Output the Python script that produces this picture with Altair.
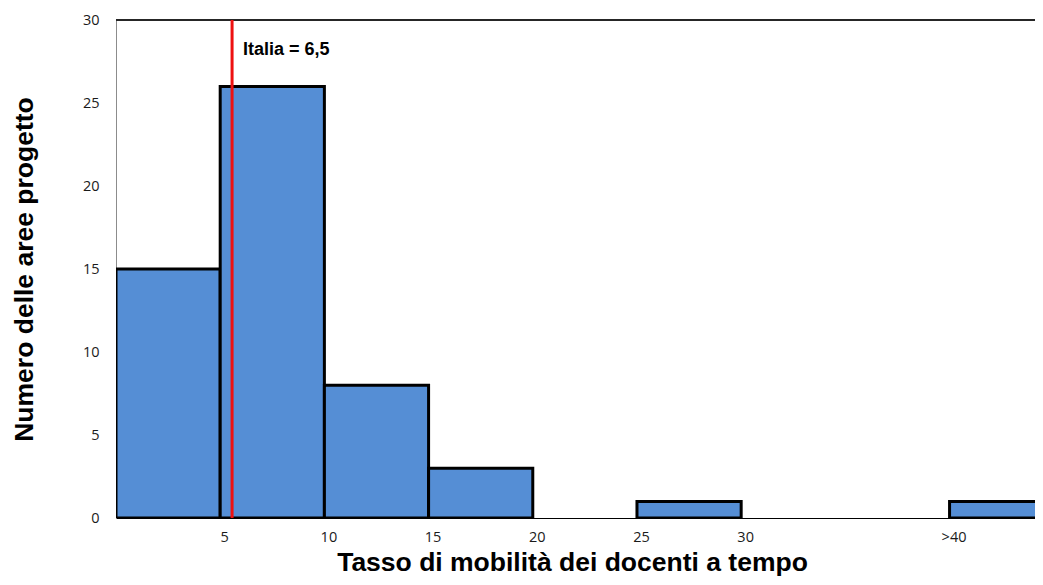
import altair as alt
import pandas as pd

# Histogram data
bin_start = [0, 5, 10, 15, 20, 25, 30, 35, 40]
bin_end = [5, 10, 15, 20, 25, 30, 35, 40, 45]
counts = [15, 26, 8, 3, 0, 1, 0, 0, 1]

# Axis tick values and labels
x_tick_values = [5, 10, 15, 20, 25, 30, 40]
y_tick_values = [0, 5, 10, 15, 20, 25, 30]

# Reference line annotation
italia_x = [5.57]
italia_label_y = [27.9]
italia_label = ["Italia = 6,5"]

bars_df = pd.DataFrame({"start": bin_start, "end": bin_end, "count": counts})
ref_df = pd.DataFrame({"x": italia_x, "y": italia_label_y, "label": italia_label})
top_df = pd.DataFrame({"v": [30]})

x_scale = alt.Scale(domain=[0, 44.1], nice=False, zero=False, padding=0)
y_scale = alt.Scale(domain=[0, 30], nice=False, padding=0)

x_axis = alt.Axis(
    values=x_tick_values,
    labelExpr="datum.value == 40 ? '>40' : datum.label",
    title="Tasso di mobilità dei docenti a tempo",
    titleFont="Liberation Sans", titleFontSize=26.5, titleFontWeight="bold",
    titleColor="#000000",
    titleBaseline="alphabetic", titleAlign="center",
    titleX=456, titleY=52,
    labelFont="Open Sans", labelFontSize=14.5, labelColor="#1a1a1a",
    labelOffset=4, labelPadding=12, ticks=False, grid=False,
    domainColor="#000000", domainWidth=1,
)
y_axis = alt.Axis(
    values=y_tick_values,
    title="Numero delle aree progetto",
    titleFont="Liberation Sans", titleFontSize=26.5, titleFontWeight="bold",
    titleColor="#000000",
    titleBaseline="alphabetic", titleX=-84,
    labelFont="Open Sans", labelFontSize=14.5, labelColor="#1a1a1a",
    labelPadding=17, ticks=False, grid=False,
    domainColor="#8c8c8c", domainWidth=1,
)

bars = alt.Chart(bars_df).transform_filter("datum.count > 0").mark_bar(
    color="#558ED5", stroke="#000000", strokeWidth=3, clip=True
).encode(
    x=alt.X("start:Q", scale=x_scale, axis=x_axis),
    x2="end:Q",
    y=alt.Y("count:Q", scale=y_scale, axis=y_axis),
    y2=alt.datum(0),
)

top_border = alt.Chart(top_df).mark_rule(color="#262626", strokeWidth=2).encode(
    y=alt.Y("v:Q", scale=y_scale)
)

red_line = alt.Chart(ref_df).mark_rule(color="#ee1111", strokeWidth=3).encode(
    x=alt.X("x:Q", scale=x_scale)
)

red_label = alt.Chart(ref_df).mark_text(
    align="left", baseline="alphabetic", dx=11,
    font="Liberation Sans", fontSize=18, fontWeight="bold", color="#000000"
).encode(
    x=alt.X("x:Q", scale=x_scale),
    y=alt.Y("y:Q", scale=y_scale),
    text="label:N",
)

chart = alt.layer(bars, top_border, red_line, red_label).properties(
    width=919, height=498,
    autosize=alt.AutoSizeParams(type="none"),
    padding={"left": 108, "top": 12, "right": 0, "bottom": 59},
).configure_view(stroke=None).configure(background="white")

chart.save("out.html", embed_options={"renderer": "svg", "actions": False})
